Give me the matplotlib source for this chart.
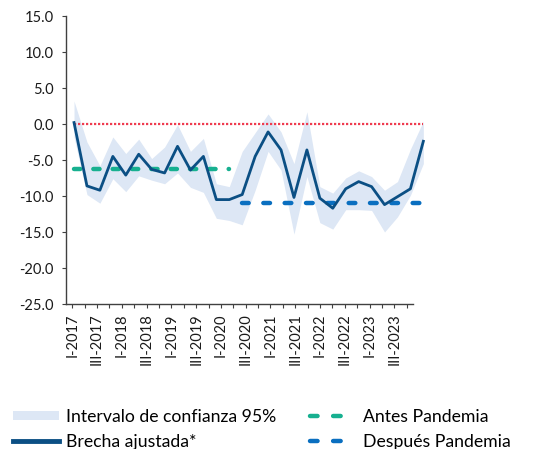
import numpy as np
import matplotlib.pyplot as plt
from matplotlib.lines import Line2D
from matplotlib.patches import Patch

plt.rcParams['font.family'] = ['Lato', 'DejaVu Sans']
plt.rcParams['axes.unicode_minus'] = False

# trimestres I-2017 .. IV-2023
anios = [2017, 2018, 2019, 2020, 2021, 2022, 2023]
trimestres = ['I', 'II', 'III', 'IV']
periodos = [f'{t}-{a}' for a in anios for t in trimestres]

# brecha ajustada y su intervalo de confianza 95%
brecha = [0.2, -8.6, -9.2, -4.5, -7.1, -4.2, -6.3, -6.8, -3.1, -6.4,
          -4.5, -10.5, -10.5, -9.8, -4.5, -1.1, -3.6, -10.2, -3.6, -10.3,
          -11.7, -9.0, -8.0, -8.7, -11.2, -10.1, -9.0, -2.4]
ic_sup = [3.2, -2.5, -5.8, -1.8, -4.1, -2.1, -4.8, -3.2, -0.1, -3.8,
          -2.0, -8.3, -8.7, -3.8, -1.2, 1.4, -1.1, -5.5, 1.7, -8.7,
          -9.6, -7.5, -6.5, -7.3, -9.2, -8.0, -3.5, 0.4]
ic_inf = [-1.8, -9.8, -11.0, -7.6, -9.4, -7.2, -7.8, -8.3, -6.8, -8.8,
          -9.5, -13.1, -13.4, -14.0, -9.2, -3.8, -6.4, -15.3, -7.3, -13.7,
          -14.6, -11.9, -11.9, -12.0, -15.0, -12.9, -9.9, -5.5]

# promedios antes / despues de la pandemia
antes = -6.3
despues = -11.0
n_antes = 13  # I-2017 .. I-2020

x = np.arange(len(periodos))

fig = plt.figure(figsize=(5.43, 4.49), dpi=100)
ax = fig.add_axes([66/543, 145/449, 347/543, 288/449])

ax.set_xlim(-0.5, len(periodos) - 0.5)
ax.set_ylim(-25, 15)
ax.set_yticks(np.arange(-25, 16, 5))
ax.set_yticklabels([f'{v:.1f}' for v in np.arange(-25, 16, 5)])
ax.set_xticks(x)
ax.set_xticklabels([p if i % 2 == 0 else '' for i, p in enumerate(periodos)], rotation=90)
for s in ['top', 'right']:
    ax.spines[s].set_visible(False)
for s in ['left', 'bottom']:
    ax.spines[s].set_color('#404040')
    ax.spines[s].set_linewidth(1.0)
ax.tick_params(axis='both', direction='out', length=3, width=0.8, color='#404040',
               labelsize=10.5, labelcolor='#1a1a1a')
ax.tick_params(axis='y', pad=6)
ax.tick_params(axis='x', pad=4)

# la serie va en un eje secundario (como en el original)
ax2 = ax.twiny()
ax2.set_xlim(-0.62, 26.2)
ax2.axis('off')

c_banda = '#dde7f5'
c_linea = '#0b4f84'
c_antes = '#17b090'
c_desp = '#0a6fc0'
c_cero = '#ef3b4f'

ax2.fill_between(x, ic_inf, ic_sup, color=c_banda, lw=0, clip_on=False, zorder=1)
ax2.plot(x, np.zeros(len(x)), color=c_cero, lw=1.6, dashes=(1, 0.8), clip_on=False, zorder=2)
ax2.plot(x[:n_antes], [antes] * n_antes, color=c_antes, lw=3.2, dashes=(1.4, 2.95),
         dash_capstyle='round', clip_on=False, zorder=3)
ax2.plot(x[n_antes:], [despues] * (len(x) - n_antes), color=c_desp, lw=3.2, dashes=(1.5, 3.3),
         dash_capstyle='round', clip_on=False, zorder=3)
ax2.plot(x, brecha, color=c_linea, lw=2, clip_on=False, zorder=4)

handles = [
    Patch(facecolor=c_banda, edgecolor='none'),
    Line2D([], [], color=c_linea, lw=3.5),
    Line2D([], [], color=c_antes, lw=3.2, dashes=(1.7, 3.5), dash_capstyle='round'),
    Line2D([], [], color=c_desp, lw=3.2, dashes=(1.7, 3.5), dash_capstyle='round'),
]
labels = ['Intervalo de confianza 95%', 'Brecha ajustada*', 'Antes Pandemia', 'Después Pandemia']
fig.legend(handles, labels, ncol=2, loc='upper left', bbox_to_anchor=(13/543, 1 - 409/449),
           frameon=False, fontsize=12.7, handlelength=2.6, handleheight=0.45,
           handletextpad=0.4, columnspacing=1.9, labelspacing=0.5, borderpad=0,
           borderaxespad=0)

fig.savefig('out.png', dpi=100)
